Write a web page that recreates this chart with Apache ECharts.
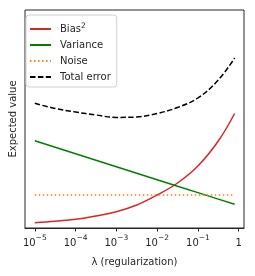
<!DOCTYPE html>
<html><head><meta charset="utf-8">
<script src="https://cdn.jsdelivr.net/npm/echarts@6/dist/echarts.min.js"></script>
<style>html,body{margin:0;padding:0;background:#fff}#c{width:255px;height:276px}</style>
</head><body><div id="c"></div>
<script>
// x positions as log10(lambda)
const logLambda = [-5, -4.5, -4, -3.5, -3, -2.5, -2, -1.5, -1, -0.5, -0.1];
const bias2 = [5.3, 6.8, 8.7, 12, 16.3, 23, 33, 45, 62, 87, 114.5];
const variance = [87.3, 80.8, 74.3, 67.8, 61.3, 54.8, 48.3, 41.8, 35.4, 28.9, 23.7];
const noise = [33, 33, 33, 33, 33, 33, 33, 33, 33, 33, 33];
const totalError = [124.7, 119.5, 116, 113, 110.6, 111, 114.5, 120.5, 130, 148, 170];
const tickExponents = [-5, -4, -3, -2, -1, 0];
const seriesNames = ['Bias2', 'Variance', 'Noise', 'Total error'];

const pair = ys => logLambda.map((x, i) => [x, ys[i]]);
const FONT = 'DejaVu Sans';
const chart = echarts.init(document.getElementById('c'), null, {renderer: 'canvas'});
chart.setOption({
  animation: false,
  textStyle: {fontFamily: FONT},
  grid: {left: 21, right: 11, top: 10, bottom: 48, show: true, borderColor: '#262626', borderWidth: 1, backgroundColor: '#fff'},
  legend: {
    orient: 'vertical', left: 26, top: 15,
    padding: [7, 6, 5, 3], itemGap: 6, itemWidth: 21, itemHeight: 10,
    itemStyle: {opacity: 0, borderWidth: 0, color: 'rgba(0,0,0,0)'},
    borderColor: '#d0d0d0', borderWidth: 1, borderRadius: 3,
    backgroundColor: 'rgba(255,255,255,0.8)',
    data: seriesNames,
    textStyle: {fontFamily: FONT, fontSize: 10, color: '#262626', padding: [0, 0, 0, 4],
      rich: {sup: {fontSize: 7.5, verticalAlign: 'top', lineHeight: 14, padding: [0,0,4,0]}, base: {fontSize: 10, lineHeight: 14}}},
    formatter: n => n === 'Bias2' ? '{base|Bias}{sup|2}' : n
  },
  xAxis: {
    type: 'value', min: -5.24, max: 0.13,
    name: 'λ (regularization)', nameLocation: 'middle', nameGap: 29,
    nameTextStyle: {fontFamily: FONT, fontSize: 10, color: '#262626'},
    axisLine: {show: true, lineStyle: {color: '#262626', width: 1}},
    axisTick: {show: true, length: 3.5, customValues: tickExponents, lineStyle: {color: '#262626'}},
    splitLine: {show: false},
    axisLabel: {
      customValues: tickExponents, margin: 6, color: '#262626',
      formatter: v => v === 0 ? '{b|1}' : '{b|10}{s|−' + (-v) + '}',
      rich: {b: {fontFamily: FONT, fontSize: 10, lineHeight: 14, verticalAlign: 'bottom'},
             s: {fontFamily: FONT, fontSize: 7.5, lineHeight: 14, verticalAlign: 'top'}}
    }
  },
  yAxis: {
    type: 'value', min: 0, max: 218,
    name: 'Expected value', nameLocation: 'middle', nameGap: 7,
    nameTextStyle: {fontFamily: FONT, fontSize: 10, color: '#262626'},
    axisLine: {show: false}, axisTick: {show: false}, axisLabel: {show: false}, splitLine: {show: false}
  },
  series: [
    {name: 'Bias2', type: 'line', data: pair(bias2), smooth: 0.4, symbol: 'none', color: '#d62728', lineStyle: {width: 1.5, color: '#d62728'}},
    {name: 'Variance', type: 'line', data: pair(variance), symbol: 'none', color: '#008000', lineStyle: {width: 1.5, color: '#008000'}},
    {name: 'Noise', type: 'line', data: pair(noise), symbol: 'none', color: '#ff7f0e', lineStyle: {width: 1.5, color: '#ff7f0e', type: [1.5, 2.5]}},
    {name: 'Total error', type: 'line', data: pair(totalError), smooth: 0.4, symbol: 'none', color: '#000', lineStyle: {width: 1.5, color: '#000', type: [5.5, 2.4]}}
  ]
});
</script></body></html>
